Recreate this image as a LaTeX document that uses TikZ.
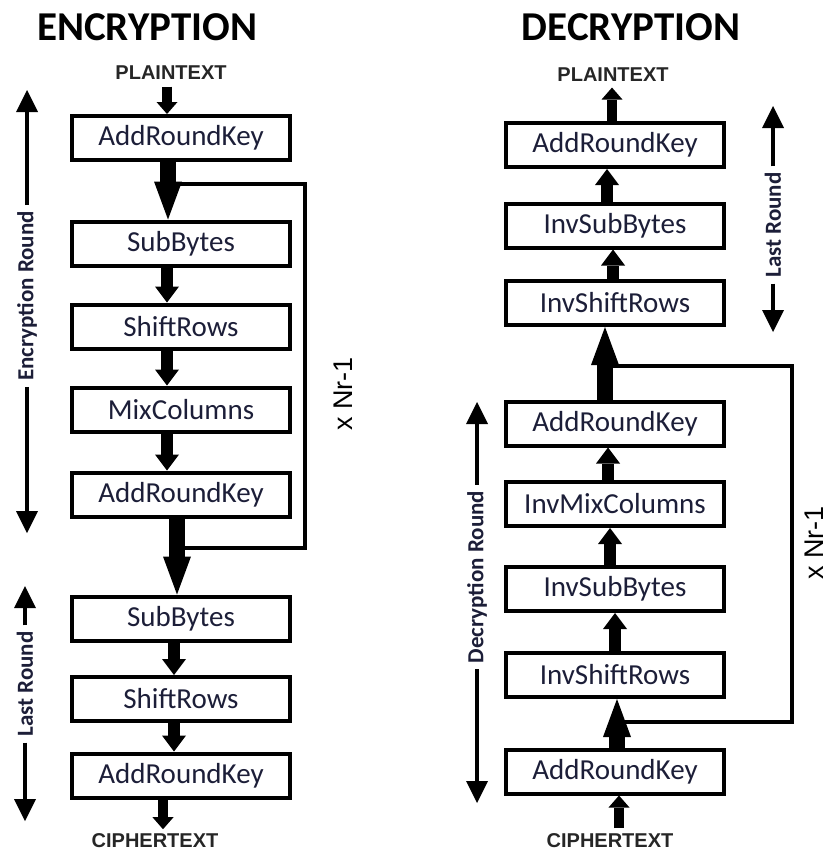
\documentclass[tikz,border=0pt]{standalone}
\usepackage{fontspec}
\setmainfont{Carlito}
\newfontfamily\arialfont{Liberation Sans}
\usepackage{xcolor}
\usepackage{tikz}
\usetikzlibrary{arrows.meta,positioning}
\definecolor{boxtext}{HTML}{1C1E38}

\begin{document}
\begin{tikzpicture}[
    x=1pt, y=-1pt,
    box/.style={rectangle, draw, line width=4pt, minimum width=218pt, minimum height=44pt, inner sep=0pt, text=boxtext, font=\fontsize{29}{31}\selectfont},
    heading/.style={font=\bfseries\fontsize{41}{43}\selectfont},
    io/.style={font=\arialfont\bfseries\fontsize{20}{22}\selectfont, text=black!85, inner sep=1.5pt},
    roundlabel/.style={rotate=90, font=\bfseries\fontsize{23}{25}\selectfont, text=boxtext, inner sep=0pt, outer sep=6pt},
    times/.style={rotate=90, font=\arialfont\fontsize{27}{29}\selectfont, inner sep=0pt},
    flow/.style={line width=12pt, -{Triangle[width=24pt, length=16pt, line width=0pt]}},
    inflow/.style={line width=10pt, -{Triangle[width=21pt, length=12pt, line width=0pt]}},
    bigflow/.style={line width=16pt, -{Triangle[width=28pt, length=38pt, line width=0pt]}},
    loopline/.style={line width=4pt},
    sidearrow/.style={line width=4pt, -{Triangle[width=22pt, length=22pt, line width=0pt]}}
]
    \useasboundingbox (0,0) rectangle (831,851);

    % Encryption
    \node[heading] (enc) at (147,27) {ENCRYPTION};
    \node[io] (plain1) at (171,73) {PLAINTEXT};
    \node[box] (ark1) at (181,138) {AddRoundKey};
    \node[box, below=57.5pt of ark1] (sb1) {SubBytes};
    \node[box, below=35pt of sb1] (sr1) {ShiftRows};
    \node[box, below=35pt of sr1] (mc1) {MixColumns};
    \node[box, below=37pt of mc1] (ark2) {AddRoundKey};
    \node[box, below=76pt of ark2] (sb2) {SubBytes};
    \node[box, below=32.5pt of sb2] (sr2) {ShiftRows};
    \node[box, below=28.5pt of sr2] (ark3) {AddRoundKey};
    \node[io] (cipher1) at (155,841) {CIPHERTEXT};

    % Loop
    \draw[loopline] ([xshift=-13pt,yshift=-22pt]ark1.south) -| ([xshift=13pt,yshift=-29pt]ark2.south east) -- ([xshift=-4pt,yshift=-29pt]ark2.south);
    \node[times] (rep1) at (343,394) {x Nr-1};

    % Arrows
    \draw[inflow] ([xshift=-4pt,yshift=-5pt]plain1.south) -- ([xshift=-14pt]ark1.north);
    \draw[bigflow] ([xshift=-13pt]ark1.south) -- ([xshift=-13pt]sb1.north);
    \draw[flow] ([xshift=-14pt]sb1.south) -- ([xshift=-14pt]sr1.north);
    \draw[flow] ([xshift=-14pt]sr1.south) -- ([xshift=-14pt]mc1.north);
    \draw[flow] ([xshift=-14pt]mc1.south) -- ([xshift=-14pt]ark2.north);
    \draw[bigflow] ([xshift=-4pt]ark2.south) -- ([xshift=-4pt]sb2.north);
    \draw[flow] ([xshift=-7pt]sb2.south) -- ([xshift=-7pt]sr2.north);
    \draw[flow] ([xshift=-7pt]sr2.south) -- ([xshift=-7pt]ark3.north);
    \draw[inflow] ([xshift=-18pt]ark3.south) -- ([xshift=8pt,yshift=3pt]cipher1.north);

    % Round labels
    \node[roundlabel] (encround) at (27,296) {Encryption Round};
    \coordinate (enctop) at (27,90);
    \coordinate (encbot) at (27,533);
    \draw[sidearrow] (encround.east) -- (enctop);
    \draw[sidearrow] (encround.west) -- (encbot);
    \node[roundlabel] (enclast) at (25,684) {Last Round};
    \coordinate (lasttop) at (25,586);
    \coordinate (lastbot) at (25,821);
    \draw[sidearrow] (enclast.east) -- (lasttop);
    \draw[sidearrow] (enclast.west) -- (lastbot);

    % Decryption
    \node[heading] (dec) at (631,27) {DECRYPTION};
    \node[io] (plain2) at (613,75) {PLAINTEXT};
    \node[box] (dark1) at (615,145) {AddRoundKey};
    \node[box, below=32.5pt of dark1] (disb1) {InvSubBytes};
    \node[box, below=29.5pt of disb1] (disr1) {InvShiftRows};
    \node[box, below=72.5pt of disr1] (dark2) {AddRoundKey};
    \node[box, below=32.5pt of dark2] (dimc) {InvMixColumns};
    \node[box, below=37pt of dimc] (disb2) {InvSubBytes};
    \node[box, below=38pt of disb2] (disr2) {InvShiftRows};
    \node[box, below=48.5pt of disr2] (dark3) {AddRoundKey};
    \node[io] (cipher2) at (610,841) {CIPHERTEXT};

    % Loop
    \draw[loopline] ([xshift=-10pt,yshift=-39pt]disr1.south) -| ([xshift=66pt,yshift=-23pt]disr2.south east) -- ([xshift=2pt,yshift=-23pt]disr2.south);
    \node[times] (rep2) at (814,543) {x Nr-1};

    % Arrows
    \draw[inflow] ([xshift=-3pt]dark1.north) -- ([xshift=-1pt,yshift=-4pt]plain2.south);
    \draw[flow] ([xshift=-8pt]disb1.north) -- ([xshift=-8pt]dark1.south);
    \draw[flow] ([xshift=-2pt]disr1.north) -- ([xshift=-2pt]disb1.south);
    \draw[bigflow] ([xshift=-10pt]dark2.north) -- ([xshift=-10pt]disr1.south);
    \draw[flow] ([xshift=-7pt]dimc.north) -- ([xshift=-7pt]dark2.south);
    \draw[flow] ([xshift=-5pt]disb2.north) -- ([xshift=-5pt]dimc.south);
    \draw[flow] (disr2.north) -- (disb2.south);
    \draw[bigflow] ([xshift=2pt]dark3.north) -- ([xshift=2pt]disr2.south);
    \draw[inflow] ([xshift=9pt,yshift=4pt]cipher2.north) -- ([xshift=4pt]dark3.south);

    % Round labels
    \node[roundlabel] (declast) at (773,225) {Last Round};
    \coordinate (dlasttop) at (773,106);
    \coordinate (dlastbot) at (773,332);
    \draw[sidearrow] (declast.east) -- (dlasttop);
    \draw[sidearrow] (declast.west) -- (dlastbot);
    \node[roundlabel] (decround) at (477,577) {Decryption Round};
    \coordinate (dectop) at (477,402);
    \coordinate (decbot) at (477,803);
    \draw[sidearrow] (decround.east) -- (dectop);
    \draw[sidearrow] (decround.west) -- (decbot);
\end{tikzpicture}
\end{document}
